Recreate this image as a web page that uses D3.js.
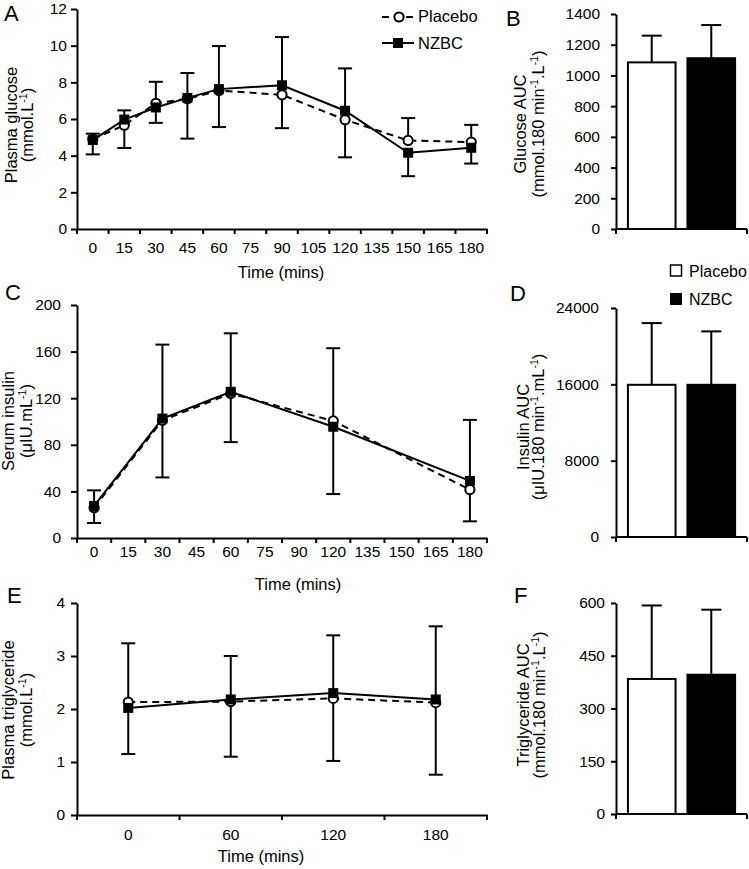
<!DOCTYPE html>
<html><head><meta charset="utf-8">
<script src="https://cdn.jsdelivr.net/npm/d3@7"></script>
<style>
body{margin:0;background:#fff;overflow:hidden}
text{font-family:"Liberation Sans",Arial,sans-serif;fill:#000}
</style>
</head><body><svg id="c" width="749" height="869"></svg>
<script>
// ---------- DATA ----------
const groups = ["Placebo", "NZBC"];

// Panel A: plasma glucose
const glucoseCategories = [0,15,30,45,60,75,90,105,120,135,150,165,180];
const glucoseTimes = [0,15,30,45,60,90,120,150,180];
const glucosePlacebo   = [4.90,5.66,6.86,7.10,7.55,7.32,5.96,4.83,4.74];
const glucosePlaceboSD = [0.30,1.24,1.17,2.17,1.99,1.82,2.05,1.22,0.94];
const glucoseNZBC      = [4.85,5.97,6.63,7.15,7.63,7.84,6.45,4.16,4.43];
const glucoseNZBCSD    = [0.78,0.50,0.84,1.36,2.35,2.63,2.31,1.28,0.86];
const glucoseTicks = [0,2,4,6,8,10,12];

// Panel B: glucose AUC
const glucoseAUC   = [1085,1112];
const glucoseAUCSD = [174,216];
const glucoseAUCTicks = [0,200,400,600,800,1000,1200,1400];

// Panel C: serum insulin
const insulinCategories = [0,15,30,45,60,75,90,120,135,150,165,180];
const insulinTimes = [0,30,60,120,180];
const insulinPlacebo   = [26,101,124,100.5,41.5];
const insulinPlaceboSD = [13.1,49,41.7,62.4,27.2];
const insulinNZBC      = [27.5,102.5,125.5,95.5,49];
const insulinNZBCSD    = [13.4,63.5,50.2,57.8,52.4];
const insulinTicks = [0,40,80,120,160,200];

// Panel D: insulin AUC
const insulinAUC   = [15950,15950];
const insulinAUCSD = [6470,5600];
const insulinAUCTicks = [0,8000,16000,24000];

// Panel E: plasma triglyceride
const tgCategories = [0,60,120,180];
const tgTimes = [0,60,120,180];
const tgPlacebo   = [2.13,2.14,2.20,2.12];
const tgPlaceboSD = [1.11,1.04,1.18,1.36];
const tgNZBC      = [2.02,2.18,2.30,2.18];
const tgNZBCSD    = [0.87,0.82,1.09,1.38];
const tgTicks = [0,1,2,3,4];

// Panel F: triglyceride AUC
const tgAUC   = [384,396];
const tgAUCSD = [209,185];
const tgAUCTicks = [0,150,300,450,600];

// ---------- DRAWING ----------
const svg = d3.select("#c");
const FONT_TICK = 15.5, FONT_TITLE = 16.5;

function rich(textSel, str) {
  const parts = str.split(/(\^\{[^}]*\})/);
  let pendingDy = 0;
  parts.forEach(p => {
    if (!p) return;
    const m = p.match(/^\^\{([^}]*)\}$/);
    if (m) {
      textSel.append("tspan").attr("font-size", 10.5).attr("dy", -6).text(m[1]);
      pendingDy = 6;
    } else {
      const t = textSel.append("tspan").text(p);
      if (pendingDy) { t.attr("dy", pendingDy); pendingDy = 0; }
    }
  });
}

function yTitle(lines, baselines, cy) {
  lines.forEach((ln, i) => {
    const t = svg.append("text")
      .attr("transform", `translate(${baselines[i]},${cy}) rotate(-90)`)
      .attr("text-anchor", "middle").attr("font-size", FONT_TITLE);
    rich(t, ln);
  });
}

function panelLetter(l, x, y) {
  svg.append("text").attr("x", x).attr("y", y).attr("font-size", 22).text(l);
}

function styleAxis(g) {
  g.attr("font-size", FONT_TICK).attr("font-family", null);
  g.selectAll("path.domain").attr("stroke", "#000").attr("stroke-width", 2);
  g.selectAll(".tick line").attr("stroke", "#000").attr("stroke-width", 2);
  g.selectAll(".tick text").attr("fill", "#000");
}

function linePanel(o) {
  const x = d3.scaleBand().domain(o.cats).range([77, 487]);
  const y = d3.scaleLinear().domain([o.ticks[0], o.ticks[o.ticks.length - 1]]).range(o.yRange);
  const y0 = o.yRange[0];
  const cx = t => x(t) + x.bandwidth() / 2;

  const gy = svg.append("g").attr("transform", "translate(77,0)")
    .call(d3.axisLeft(y).tickValues(o.ticks).tickFormat(d => String(d))
      .tickSize(6).tickSizeOuter(0).tickPadding(o.yPad));
  styleAxis(gy);

  const gx = svg.append("g").attr("transform", `translate(0,${y0})`)
    .call(d3.axisBottom(x).tickSize(0).tickSizeOuter(0).tickPadding(o.xPad));
  styleAxis(gx);
  const bounds = d3.range(o.cats.length + 1).map(i => x.range()[0] + i * x.step());
  svg.append("g").selectAll("line").data(bounds).join("line")
    .attr("x1", d => d).attr("x2", d => d)
    .attr("y1", y0).attr("y2", y0 + 5)
    .attr("stroke", "#000").attr("stroke-width", 2);

  svg.append("text").attr("x", o.xTitleX).attr("y", o.xTitleY)
    .attr("text-anchor", "middle").attr("font-size", FONT_TITLE).text("Time (mins)");

  const pts = o.times.map((t, i) => ({
    t, p: o.placebo[i], ps: o.placeboSD[i], n: o.nzbc[i], ns: o.nzbcSD[i]
  }));

  const line = d3.line().x(d => cx(d.t)).y(d => y(d.v));
  svg.append("path").datum(pts.map(d => ({t: d.t, v: d.p})))
    .attr("d", line).attr("fill", "none").attr("stroke", "#000")
    .attr("stroke-width", 2).attr("stroke-dasharray", "7,5");
  svg.append("path").datum(pts.map(d => ({t: d.t, v: d.n})))
    .attr("d", line).attr("fill", "none").attr("stroke", "#000")
    .attr("stroke-width", 2);

  // error bars: higher series upward, lower series downward
  const errs = [];
  pts.forEach(d => {
    const pUp = d.p >= d.n;
    errs.push({t: d.t, from: d.p, to: pUp ? d.p + d.ps : d.p - d.ps});
    errs.push({t: d.t, from: d.n, to: pUp ? d.n - d.ns : d.n + d.ns});
  });
  const eg = svg.append("g").attr("stroke", "#000").attr("stroke-width", 2);
  eg.selectAll("line.v").data(errs).join("line").attr("class", "v")
    .attr("x1", d => cx(d.t)).attr("x2", d => cx(d.t))
    .attr("y1", d => y(d.from)).attr("y2", d => y(d.to));
  eg.selectAll("line.c").data(errs).join("line").attr("class", "c")
    .attr("x1", d => cx(d.t) - 7).attr("x2", d => cx(d.t) + 7)
    .attr("y1", d => y(d.to)).attr("y2", d => y(d.to));

  svg.append("g").selectAll("circle").data(pts).join("circle")
    .attr("cx", d => cx(d.t)).attr("cy", d => y(d.p)).attr("r", 4.6)
    .attr("fill", "#fff").attr("stroke", "#000").attr("stroke-width", 2);
  svg.append("g").selectAll("rect").data(pts).join("rect")
    .attr("x", d => cx(d.t) - 5).attr("y", d => y(d.n) - 5)
    .attr("width", 10).attr("height", 10).attr("fill", "#000");
}

function barPanel(o) {
  const x = d3.scaleBand().domain(groups).range([616, 747]).paddingInner(0.2).paddingOuter(0.2);
  const y = d3.scaleLinear().domain([o.ticks[0], o.ticks[o.ticks.length - 1]]).range(o.yRange);
  const y0 = o.yRange[0];

  const gy = svg.append("g").attr("transform", "translate(616,0)")
    .call(d3.axisLeft(y).tickValues(o.ticks).tickFormat(d => String(d))
      .tickSize(5).tickSizeOuter(0).tickPadding(o.yPad));
  styleAxis(gy);

  svg.append("line").attr("x1", 616).attr("x2", 747).attr("y1", y0).attr("y2", y0)
    .attr("stroke", "#000").attr("stroke-width", 2);
  svg.append("g").selectAll("line").data(x.range()).join("line")
    .attr("x1", d => d).attr("x2", d => d).attr("y1", y0).attr("y2", y0 + 5)
    .attr("stroke", "#000").attr("stroke-width", 2);

  const data = groups.map((g, i) => ({g, v: o.values[i], sd: o.sd[i]}));
  const mid = d => x(d.g) + x.bandwidth() / 2;
  const eg = svg.append("g").attr("stroke", "#000").attr("stroke-width", 2);
  eg.selectAll("line.v").data(data).join("line").attr("class", "v")
    .attr("x1", mid).attr("x2", mid)
    .attr("y1", d => y(d.v)).attr("y2", d => y(d.v + d.sd));
  eg.selectAll("line.c").data(data).join("line").attr("class", "c")
    .attr("x1", d => mid(d) - 10).attr("x2", d => mid(d) + 10)
    .attr("y1", d => y(d.v + d.sd)).attr("y2", d => y(d.v + d.sd));

  svg.append("g").selectAll("rect").data(data).join("rect")
    .attr("x", d => x(d.g)).attr("width", x.bandwidth())
    .attr("y", d => y(d.v)).attr("height", d => y0 - y(d.v))
    .attr("fill", d => d.g === "NZBC" ? "#000" : "#fff")
    .attr("stroke", "#000").attr("stroke-width", 2);
}

// Panel A
linePanel({cats: glucoseCategories, times: glucoseTimes,
  placebo: glucosePlacebo, placeboSD: glucosePlaceboSD, nzbc: glucoseNZBC, nzbcSD: glucoseNZBCSD,
  ticks: glucoseTicks, yRange: [229, 9], yPad: 4, xPad: 13, xTitleX: 281, xTitleY: 278});
yTitle(["Plasma glucose", "(mmol.L^{-1})"], [17, 33], 125);
panelLetter("A", 4, 21);

// Panel A legend
{
  const lg = svg.append("g");
  lg.append("line").attr("x1", 382).attr("x2", 415).attr("y1", 17).attr("y2", 17)
    .attr("stroke", "#000").attr("stroke-width", 2).attr("stroke-dasharray", "7,5");
  lg.append("circle").attr("cx", 399).attr("cy", 17).attr("r", 4.6)
    .attr("fill", "#fff").attr("stroke", "#000").attr("stroke-width", 2);
  lg.append("text").attr("x", 418).attr("y", 22).attr("font-size", FONT_TITLE).text(groups[0]);
  lg.append("line").attr("x1", 382).attr("x2", 414).attr("y1", 43).attr("y2", 43)
    .attr("stroke", "#000").attr("stroke-width", 2);
  lg.append("rect").attr("x", 393).attr("y", 38).attr("width", 10).attr("height", 10).attr("fill", "#000");
  lg.append("text").attr("x", 418).attr("y", 49).attr("font-size", FONT_TITLE).text(groups[1]);
}

// Panel B
barPanel({values: glucoseAUC, sd: glucoseAUCSD, ticks: glucoseAUCTicks, yRange: [229, 14], yPad: 11});
yTitle(["Glucose  AUC", "(mmol.180 min^{-1}.L^{-1})"], [526, 544], 124);
panelLetter("B", 506, 26);

// Panel C
linePanel({cats: insulinCategories, times: insulinTimes,
  placebo: insulinPlacebo, placeboSD: insulinPlaceboSD, nzbc: insulinNZBC, nzbcSD: insulinNZBCSD,
  ticks: insulinTicks, yRange: [538, 305], yPad: 10, xPad: 7.5, xTitleX: 298, xTitleY: 590});
yTitle(["Serum insulin", "(μIU.mL^{-1})"], [14, 31.5], 421);
panelLetter("C", 5, 300);

// Panel D legend
{
  const lg = svg.append("g");
  lg.append("rect").attr("x", 670.5).attr("y", 265).attr("width", 11).attr("height", 11)
    .attr("fill", "#fff").attr("stroke", "#000").attr("stroke-width", 1.5);
  lg.append("text").attr("x", 689).attr("y", 277).attr("font-size", 16).text(groups[0]);
  lg.append("rect").attr("x", 670).attr("y", 293).attr("width", 12).attr("height", 12).attr("fill", "#000");
  lg.append("text").attr("x", 689).attr("y", 305).attr("font-size", 16).text(groups[1]);
}

// Panel D
barPanel({values: insulinAUC, sd: insulinAUCSD, ticks: insulinAUCTicks, yRange: [537, 308], yPad: 12});
yTitle(["Insulin AUC", "(μIU.180 min^{-1}.mL^{-1})"], [529, 544], 427);
panelLetter("D", 510, 301);

// Panel E
linePanel({cats: tgCategories, times: tgTimes,
  placebo: tgPlacebo, placeboSD: tgPlaceboSD, nzbc: tgNZBC, nzbcSD: tgNZBCSD,
  ticks: tgTicks, yRange: [815, 603], yPad: 6, xPad: 14, xTitleX: 261, xTitleY: 862});
yTitle(["Plasma triglyceride", "(mmol.L^{-1})"], [14, 31.5], 710);
panelLetter("E", 7, 603);

// Panel F
barPanel({values: tgAUC, sd: tgAUCSD, ticks: tgAUCTicks, yRange: [814, 603], yPad: 6});
yTitle(["Triglyceride AUC", "(mmol.180 min^{-1}.L^{-1})"], [529, 545], 705);
panelLetter("F", 514, 603);
</script>
</body></html>
